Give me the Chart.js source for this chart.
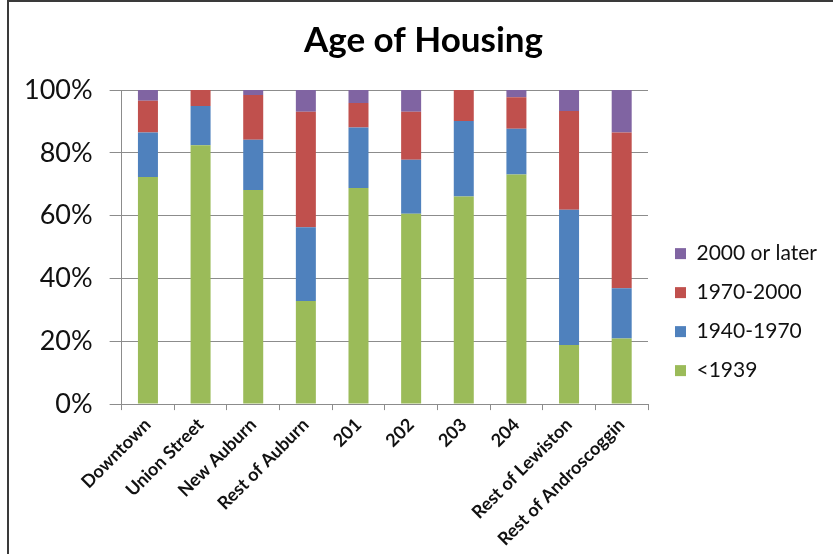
<!DOCTYPE html>
<html>
<head>
<meta charset="utf-8">
<script src="https://cdn.jsdelivr.net/npm/chart.js@4"></script>
<style>
  html, body { margin: 0; padding: 0; background: #fff; }
  #wrap { position: relative; width: 833px; height: 554px; }
  #frame { position: absolute; left: 7px; top: 0; right: 0; bottom: 0;
           border-left: 2px solid #3a3a3a; border-top: 2px solid #3a3a3a; pointer-events: none; }
  canvas { position: absolute; left: 0; top: 0; }
</style>
</head>
<body>
<div id="wrap">
  <canvas id="chartIdade" width="833" height="554"></canvas>
  <div id="frame"></div>
</div>
<script>
// share of housing units by construction period, per area (%)
const areas = ['Downtown', 'Union Street', 'New Auburn', 'Rest of Auburn', '201', '202', '203', '204', 'Rest of Lewiston', 'Rest of Androscoggin'];
const pre1939 = [72.3, 82.4, 68.2, 32.8, 68.8, 60.6, 66.1, 73.1, 18.8, 20.9];
const from1940 = [14.2, 12.5, 16.0, 23.5, 19.3, 17.2, 24.0, 14.6, 43.1, 16.0];
const from1970 = [10.1, 5.1, 14.2, 36.8, 7.8, 15.3, 9.9, 10.0, 31.4, 49.6];
const after2000 = [3.4, 0.0, 1.6, 6.9, 4.1, 6.9, 0.0, 2.3, 6.7, 13.5];
const yTicks = [0, 20, 40, 60, 80, 100];

// nudges legend and title after layout
const boxShift = {
    id: 'boxShift',
    afterLayout(chart, args, opts) {
        const move = (box, d) => {
            if (!box || !d) return;
            box.top += d.dy; box.bottom += d.dy;
            box.left += d.dx; box.right += d.dx;
        };
        move(chart.legend, opts.legend);
        move(chart.titleBlock, opts.title);
    }
};

const ctx = document.getElementById('chartIdade').getContext('2d');
new Chart(ctx, {
    type: 'bar',
    data: {
        labels: areas,
        datasets: [
            { label: '<1939', data: pre1939, backgroundColor: '#9bbb59' },
            { label: '1940-1970', data: from1940, backgroundColor: '#4f81bd' },
            { label: '1970-2000', data: from1970, backgroundColor: '#c0504d' },
            { label: '2000 or later', data: after2000, backgroundColor: '#8064a2' }
        ]
    },
    plugins: [boxShift],
    options: {
        responsive: false,
        animation: false,
        layout: { padding: { left: 7, right: 15, top: 0, bottom: 0 } },
        datasets: { bar: { barPercentage: 0.38, categoryPercentage: 1.0, borderWidth: 0 } },
        scales: {
            x: {
                stacked: true,
                afterFit: s => { s.paddingLeft = 0; },
                grid: { display: true, drawOnChartArea: false, offset: true, tickLength: 6, color: '#8c8c8c' },
                border: { color: '#8c8c8c' },
                ticks: {
                    maxRotation: 45, minRotation: 45, padding: 4,
                    color: '#111', font: { family: 'Lato', size: 18, weight: 'bold' }
                }
            },
            y: {
                stacked: true, min: 0, max: 100,
                afterBuildTicks: axis => { axis.ticks = yTicks.map(v => ({ value: v })); },
                grid: { color: '#8c8c8c', tickLength: 12 },
                border: { color: '#8c8c8c' },
                ticks: {
                    padding: 17, color: '#111',
                    font: { family: 'Lato', size: 27 },
                    callback: v => v + '%'
                }
            }
        },
        plugins: {
            title: {
                display: true, text: 'Age of Housing', color: '#000',
                font: { family: 'Lato', size: 35, weight: 'bold' },
                padding: { top: 20, bottom: 28 }
            },
            legend: {
                position: 'right', align: 'end', reverse: true, fullSize: false,
                labels: {
                    boxWidth: 11, boxHeight: 11, padding: 18, color: '#111',
                    font: { family: 'Lato', size: 21 }
                }
            },
            boxShift: { legend: { dx: 9, dy: -5 }, title: { dx: 11, dy: 0 } },
            tooltip: { enabled: false }
        }
    }
});
</script>
</body>
</html>
